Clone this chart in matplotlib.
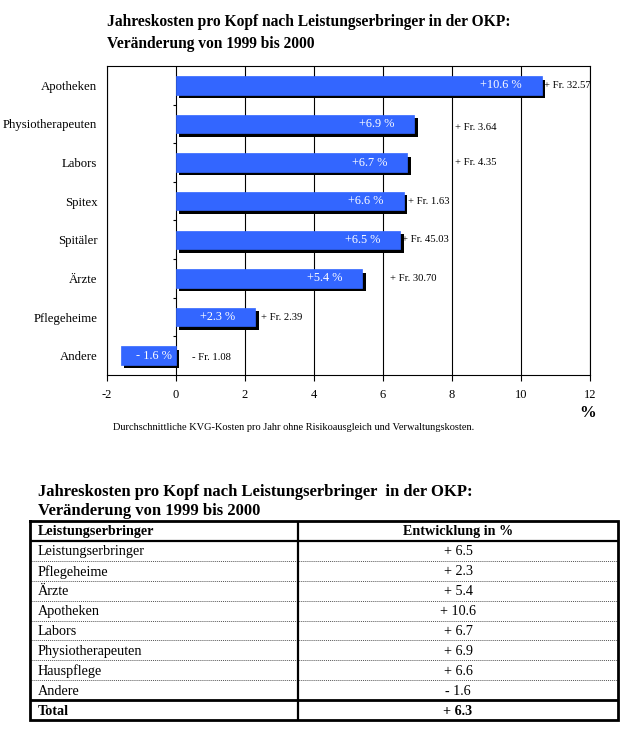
import matplotlib
matplotlib.use("Agg")
import matplotlib.pyplot as plt
import matplotlib.patheffects as pe
import numpy as np

plt.rcParams['font.family'] = ['Liberation Serif', 'DejaVu Serif']

# ---- data ----
title_lines = ["Jahreskosten pro Kopf nach Leistungserbringer in der OKP:",
               "Veränderung von 1999 bis 2000"]
categories = ["Apotheken", "Physiotherapeuten", "Labors", "Spitex", "Spitäler",
              "Ärzte", "Pflegeheime", "Andere"]
pct_change = [10.6, 6.9, 6.7, 6.6, 6.5, 5.4, 2.3, -1.6]
pct_labels = ["+10.6 %", "+6.9 %", "+6.7 %", "+6.6 %", "+6.5 %", "+5.4 %", "+2.3 %", "- 1.6 %"]
fr_labels = ["+ Fr. 32.57", "+ Fr. 3.64", "+ Fr. 4.35", "+ Fr. 1.63", "+ Fr. 45.03",
             "+ Fr. 30.70", "+ Fr. 2.39", "- Fr. 1.08"]
x_ticks = [-2, 0, 2, 4, 6, 8, 10, 12]
footnote = "Durchschnittliche KVG-Kosten pro Jahr ohne Risikoausgleich und Verwaltungskosten."

table_title = ["Jahreskosten pro Kopf nach Leistungserbringer  in der OKP:",
               "Veränderung von 1999 bis 2000"]
table_header = ["Leistungserbringer", "Entwicklung in %"]
table_rows = ["Leistungserbringer", "Pflegeheime", "Ärzte", "Apotheken", "Labors",
              "Physiotherapeuten", "Hauspflege", "Andere"]
table_values = ["+ 6.5", "+ 2.3", "+ 5.4", "+ 10.6", "+ 6.7", "+ 6.9", "+ 6.6", "- 1.6"]
table_total = ["Total", "+ 6.3"]

# ---- layout (label positions, styling) ----
fr_label_x = [10.66, 8.1, 8.1, 6.72, 6.55, 6.2, 2.47, 0.45]
fr_label_dy = [0, 0.1, 0, 0, 0, 0, 0, 0.05]
bar_color = "#3366FF"

W, H = 630, 732
fig = plt.figure(figsize=(W / 100, H / 100), dpi=100)

def fx(px):
    return px / W

def fy(py):
    return 1 - py / H

# chart titles
for i, t in enumerate(title_lines):
    fig.text(fx(107), fy(22 + 22 * i), t, fontsize=11.2, fontweight='bold',
             va='center', ha='left')

ax = fig.add_axes([fx(107), fy(375), fx(590) - fx(107), fy(66) - fy(375)])
n = len(categories)
ypos = np.arange(n)
bars = ax.barh(ypos, pct_change, height=0.48, color=bar_color, edgecolor=bar_color,
               linewidth=0.5, zorder=3)
for b in bars:
    b.set_path_effects([pe.SimplePatchShadow(offset=(2.5, -2.5), shadow_rgbFace='black', alpha=1.0),
                        pe.Normal()])

ax.set_xlim(-2, 12)
ax.set_ylim(n - 0.5, -0.5)
ax.set_xticks(x_ticks)
ax.set_xticklabels([str(v) for v in x_ticks], fontsize=9)
ax.tick_params(axis='x', direction='out', length=4, width=0.8, pad=6)
ax.set_yticks(ypos)
ax.set_yticklabels(categories, fontsize=9.2)
ax.tick_params(axis='y', length=0, pad=7)
ax.grid(axis='x', color='black', linewidth=0.8, zorder=0)
ax.set_axisbelow(True)
for s in ax.spines.values():
    s.set_color('black')
    s.set_linewidth(0.8)

# small tick marks on the zero line between categories
ax.hlines(ypos[:-1] + 0.5, -0.1, 0, color='black', linewidth=0.8, zorder=2)

for i, (v, pl, fl) in enumerate(zip(pct_change, pct_labels, fr_labels)):
    if v > 0:
        ax.text(v - 0.58, i, pl, color='white', fontsize=8.8, ha='right', va='center', zorder=4)
    else:
        ax.text(-0.12, i, pl, color='white', fontsize=8.8, ha='right', va='center', zorder=4)
    ax.text(fr_label_x[i], i + fr_label_dy[i], fl, fontsize=7.7, ha='left', va='center', zorder=4)

fig.text(fx(588), fy(413), "%", fontsize=12, fontweight='bold', ha='center', va='center')
fig.text(fx(294), fy(428), footnote, fontsize=7.5, ha='center', va='center')

# table title
for i, t in enumerate(table_title):
    fig.text(fx(38), fy(492 + 19 * i), t, fontsize=12, fontweight='bold',
             va='center', ha='left')

# table
tx = fig.add_axes([fx(30), fy(720), fx(618) - fx(30), fy(521) - fy(720)])
nrows = len(table_rows) + 2
tx.set_xlim(0, 1)
tx.set_ylim(nrows, 0)
tx.axis('off')
col_split = (298 - 30) / 588
left_pad = 8 / 588
val_x = (col_split + 1) / 2

all_left = [table_header[0]] + table_rows + [table_total[0]]
all_right = [table_header[1]] + table_values + [table_total[1]]
for r, (lt, rt) in enumerate(zip(all_left, all_right)):
    bold = (r == 0 or r == nrows - 1)
    tx.text(left_pad, r + 0.55, lt, fontsize=10.2, ha='left', va='center',
            fontweight='bold' if bold else 'normal')
    tx.text(val_x, r + 0.55, rt, fontsize=10.2, ha='center', va='center',
            fontweight='bold' if bold else 'normal')

# lines
for r in range(2, nrows - 1):
    tx.axhline(r, color='#555555', linewidth=0.7, linestyle=(0, (1, 1)))
tx.axhline(1, color='black', linewidth=1.6)
tx.axhline(nrows - 1, color='black', linewidth=2.0)
tx.plot([col_split, col_split], [0, nrows], color='black', linewidth=1.6)
tx.plot([0, 1, 1, 0, 0], [0, 0, nrows, nrows, 0], color='black', linewidth=2.0,
        solid_joinstyle='miter', clip_on=False)

fig.savefig("out.png", dpi=100)
